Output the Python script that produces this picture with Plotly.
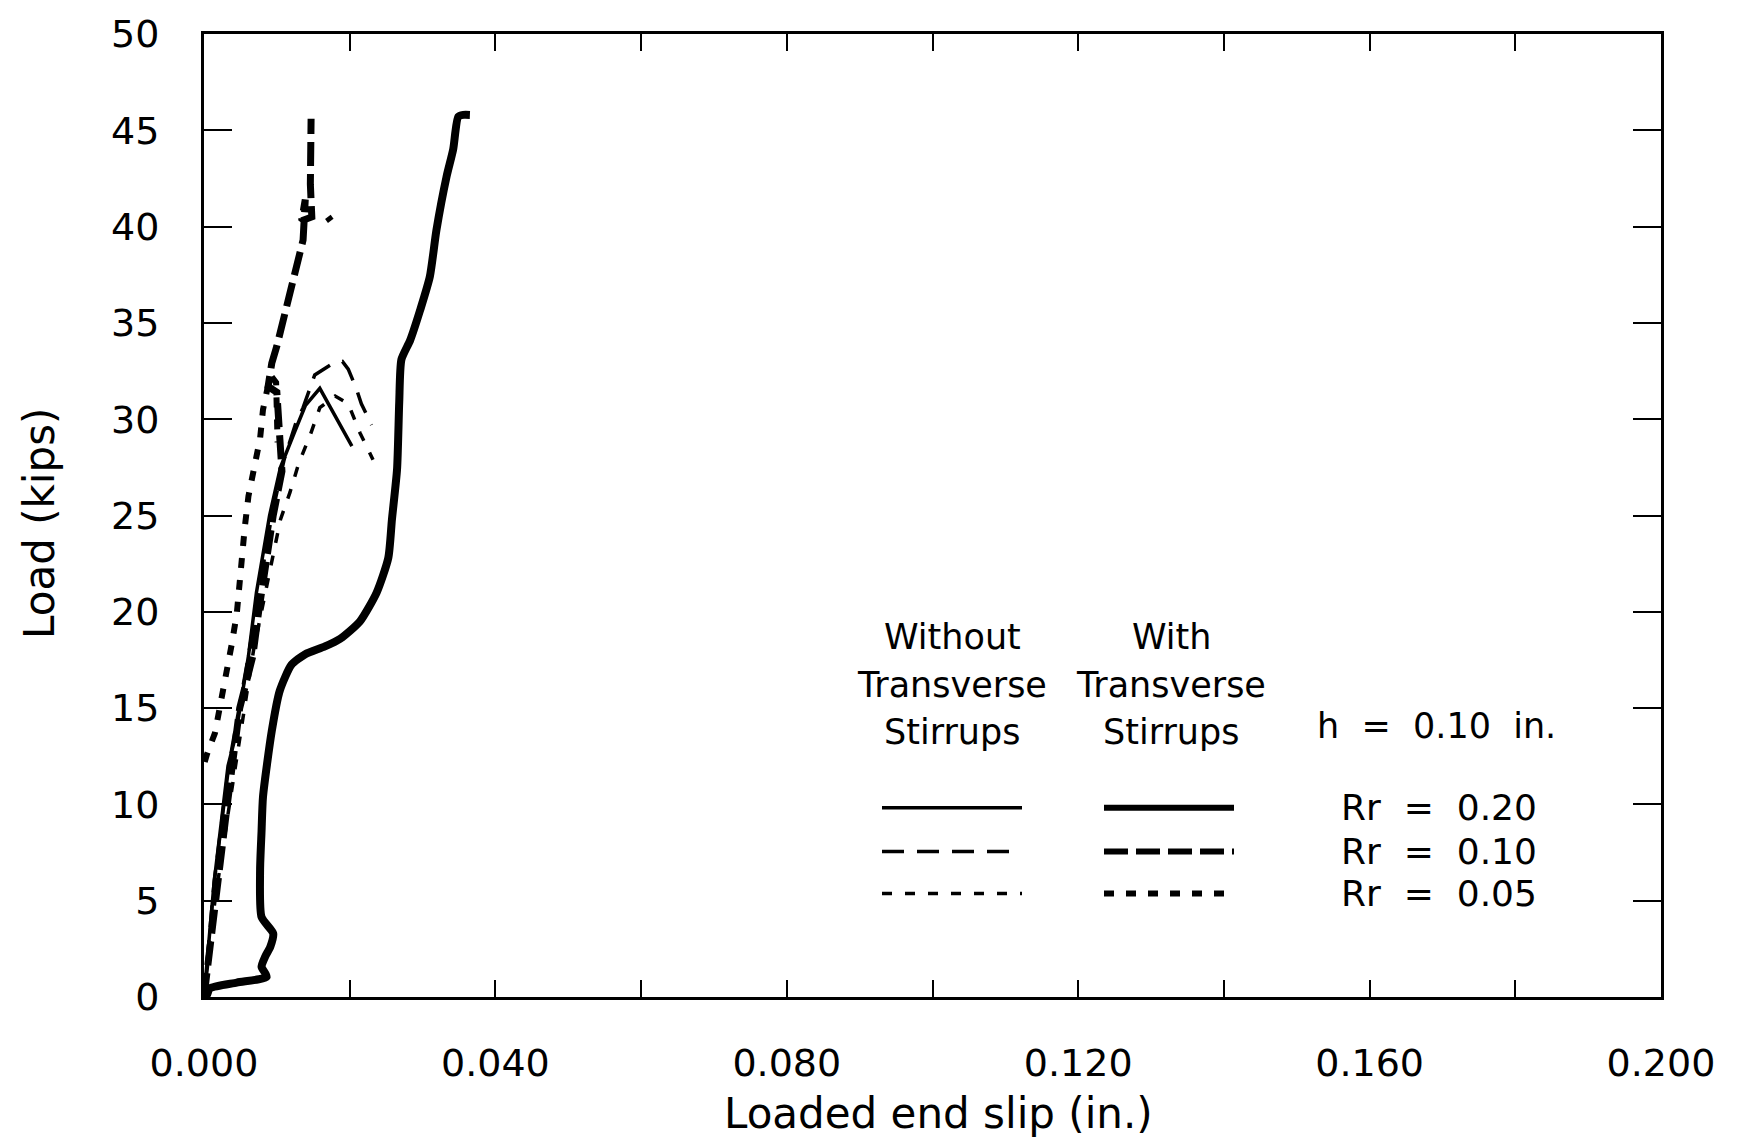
import plotly.graph_objects as go

# ---------------- data (slip in inches, load in kips) ----------------
# Without transverse stirrups, Rr = 0.20 (thin solid)
a_x = [0, 0.0014, 0.0033, 0.0043, 0.0061, 0.0072, 0.0090, 0.0105, 0.0125, 0.0139, 0.0159, 0.0203]
a_y = [0, 6.0, 12.0, 13.5, 17.7, 21.0, 25.0, 27.5, 29.4, 30.7, 31.6, 28.6]

# Without transverse stirrups, Rr = 0.10 (thin long dash)
b_x = [0, 0.0014, 0.0034, 0.0060, 0.0075, 0.0093, 0.0110, 0.0126, 0.0136, 0.0145, 0.0152,
       0.0177, 0.0190, 0.0198, 0.0209, 0.0216, 0.0230]
b_y = [0, 6.0, 12.0, 17.5, 21.0, 25.0, 27.9, 29.8, 30.6, 31.6, 32.3,
       32.9, 33.0, 32.6, 31.6, 30.8, 29.7]

# Without transverse stirrups, Rr = 0.05 (thin short dash)
c_x = [0, 0.0015, 0.0035, 0.0052, 0.0068, 0.0087, 0.0105, 0.0118, 0.0130, 0.0146, 0.0159,
       0.0180, 0.0198, 0.0214, 0.0232]
c_y = [0, 5.0, 10.0, 14.0, 18.0, 21.5, 24.8, 26.2, 27.7, 29.2, 30.6,
       31.2, 30.8, 29.3, 27.9]

# With transverse stirrups, Rr = 0.20 (thick solid)
d_x = [0, 0.0004, 0.0008, 0.0045, 0.0086, 0.0079, 0.0084, 0.0091, 0.0095, 0.0079, 0.0077,
       0.0079, 0.0081, 0.0093, 0.0104, 0.0120, 0.0139, 0.0166, 0.0187, 0.0214, 0.0237,
       0.0253, 0.0258, 0.0265, 0.0268, 0.0271, 0.0283, 0.0297, 0.0310, 0.0319, 0.0333,
       0.0342, 0.0349, 0.0356, 0.0365]
d_y = [0, 0.1, 0.45, 0.75, 1.05, 1.57, 2.1, 2.6, 3.3, 4.15, 6.6,
       8.6, 10.4, 13.8, 15.9, 17.25, 17.8, 18.2, 18.6, 19.5, 21.0,
       22.8, 24.8, 27.4, 30.9, 33.1, 34.1, 35.7, 37.4, 39.8, 42.6,
       44.0, 45.7, 45.8, 45.8]

# With transverse stirrups, Rr = 0.10 (thick long dash)
e_x = [0, 0.0006, 0.0017, 0.0032, 0.0049, 0.0067, 0.0075, 0.0095, 0.0107, 0.0100, 0.0100,
       0.0088, 0.0093, 0.0100, 0.0126, 0.0136, 0.0139, 0.0134, 0.0148, 0.0146, 0.0147,
       None, 0.0170, 0.0174]
e_y = [0, 2.0, 5.0, 10.0, 15.0, 17.7, 20.0, 25.0, 27.3, 30.7, 31.4,
       31.7, 32.9, 33.8, 37.9, 39.3, 41.4, 40.3, 40.5, 42.2, 45.6,
       None, 40.5, 40.3]

# With transverse stirrups, Rr = 0.05 (thick short dash)
f_x = [0.0001, 0.0004, 0.0015, 0.0024, 0.0031, 0.0038, 0.0045, 0.0052, 0.0056, 0.0061,
       0.0068, 0.0077, 0.0081, 0.0091, 0.0099, 0.0100, 0.0101]
f_y = [12.2, 12.6, 13.7, 15.4, 16.9, 18.3, 19.9, 23.0, 24.4, 26.0,
       27.4, 29.0, 30.5, 32.3, 31.9, 30.6, 28.8]

x_tickvals = [0, 0.02, 0.04, 0.06, 0.08, 0.10, 0.12, 0.14, 0.16, 0.18, 0.20]
x_ticktext = ["0.000", "", "0.040", "", "0.080", "", "0.120", "", "0.160", "", "0.200"]
y_tickvals = [0, 5, 10, 15, 20, 25, 30, 35, 40, 45, 50]

legend_rows = ["Rr  =  0.20", "Rr  =  0.10", "Rr  =  0.05"]

# ---------------- figure ----------------
FONT = "DejaVu Sans"
THIN, THICK = 3.5, 7
thin_dashes = ["solid", "22px,13px", "10px,13px"]
thick_dashes = ["solid", "24px,8px", "10px,12px"]

fig = go.Figure()
series = [
    (a_x, a_y, THIN, thin_dashes[0], "linear"),
    (b_x, b_y, THIN, thin_dashes[1], "linear"),
    (c_x, c_y, THIN, thin_dashes[2], "linear"),
    (d_x, d_y, THICK + 1, thick_dashes[0], "spline"),
    (e_x, e_y, THICK, thick_dashes[1], "linear"),
    (f_x, f_y, THICK - 1, thick_dashes[2], "linear"),
]
for xs, ys, w, dash, shape in series:
    line = dict(color="black", width=w, dash=dash, shape=shape)
    if shape == "spline":
        line["smoothing"] = 0.6
    fig.add_trace(go.Scatter(x=xs, y=ys, mode="lines", connectgaps=False,
                             line=line, showlegend=False, hoverinfo="skip"))

# plot area in pixels: x 204..1661, y 30..997
L, R, T, B = 204, 1661, 30, 997
W, H = 1740, 1142


def px(xp):
    return (xp - L) / (R - L)


def py(yp):
    return (B - yp) / (B - T)


annotations = []
for cx, lines in [(952, ["Without", "Transverse", "Stirrups"]),
                  (1171, ["With", "Transverse", "Stirrups"])]:
    for txt, yy in zip(lines, [636, 684, 731]):
        annotations.append(dict(x=px(cx), y=py(yy), xref="paper", yref="paper",
                                text=txt, showarrow=False, xanchor="center", yanchor="middle",
                                font=dict(family=FONT, size=35, color="black")))
annotations.append(dict(x=px(1315), y=py(725), xref="paper", yref="paper",
                        text="h  =  0.10  in.", showarrow=False, xanchor="left", yanchor="middle",
                        font=dict(family=FONT, size=35, color="black")))
row_y = [807, 851, 893]
for txt, yy in zip(legend_rows, row_y):
    annotations.append(dict(x=px(1339), y=py(yy), xref="paper", yref="paper",
                            text=txt, showarrow=False, xanchor="left", yanchor="middle",
                            font=dict(family=FONT, size=36, color="black")))
# axis titles
annotations.append(dict(x=px(938), y=py(1114), xref="paper", yref="paper",
                        text="Loaded end slip (in.)", showarrow=False,
                        xanchor="center", yanchor="middle",
                        font=dict(family=FONT, size=42, color="black")))
annotations.append(dict(x=px(40), y=py(522), xref="paper", yref="paper",
                        text="Load (kips)", showarrow=False, textangle=-90,
                        xanchor="center", yanchor="middle",
                        font=dict(family=FONT, size=42, color="black")))

shapes = []
for i, yy in enumerate(row_y):
    shapes.append(dict(type="line", xref="paper", yref="paper",
                       x0=px(882), x1=px(1022), y0=py(yy), y1=py(yy),
                       line=dict(color="black", width=THIN, dash=thin_dashes[i])))
    shapes.append(dict(type="line", xref="paper", yref="paper",
                       x0=px(1104), x1=px(1234), y0=py(yy), y1=py(yy),
                       line=dict(color="black", width=THICK - 1, dash=thick_dashes[i])))

fig.update_layout(
    width=W, height=H,
    margin=dict(l=L, r=W - R, t=T, b=H - B),
    plot_bgcolor="white", paper_bgcolor="white",
    showlegend=False,
    annotations=annotations,
    shapes=shapes,
    xaxis=dict(range=[0, 0.2], tickvals=x_tickvals, ticktext=x_ticktext,
               ticks="inside", ticklen=17, tickwidth=2, tickcolor="black",
               mirror="allticks", showline=True, linewidth=3, linecolor="black",
               showgrid=False, zeroline=False, ticklabelstandoff=30,
               tickfont=dict(family=FONT, size=38, color="black")),
    yaxis=dict(range=[0, 50], tickvals=y_tickvals,
               ticks="inside", ticklen=28, tickwidth=2, tickcolor="black",
               mirror="allticks", showline=True, linewidth=3, linecolor="black",
               showgrid=False, zeroline=False, ticklabelstandoff=34,
               tickfont=dict(family=FONT, size=38, color="black")),
)

fig.write_html("out.html")
